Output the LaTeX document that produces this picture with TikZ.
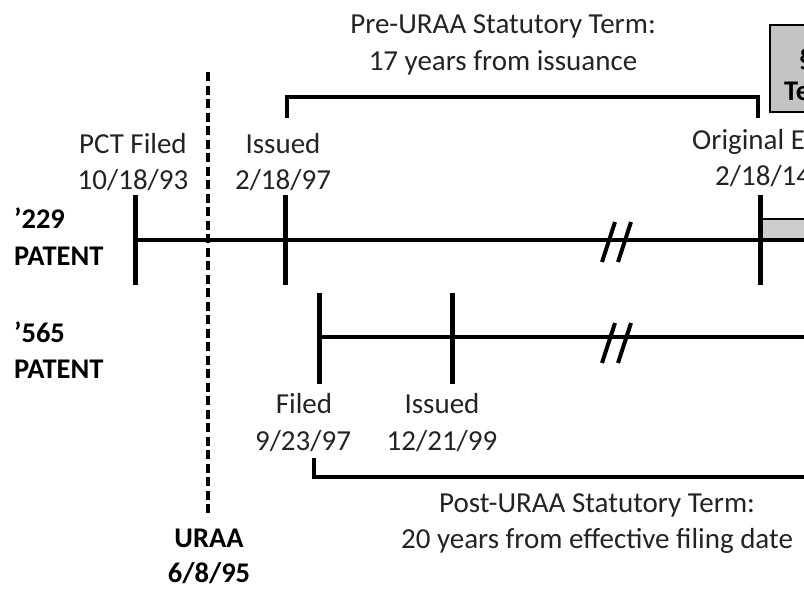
\documentclass[tikz,border=0pt]{standalone}
\usepackage{fontspec}
\setmainfont{Carlito}
\definecolor{txt}{RGB}{35,35,35}
\definecolor{boxgray}{RGB}{196,196,196}
\definecolor{bargray}{RGB}{205,205,205}
\begin{document}
\begin{tikzpicture}[x=1pt,y=-1pt,
  lbl/.style={anchor=base, inner sep=0pt, text=txt, font=\fontsize{29}{35}\selectfont},
  blbl/.style={anchor=base west, inner sep=0pt, text=black, font=\fontsize{28.5}{35}\selectfont\bfseries},
  axisline/.style={line width=4.8pt},
  tickline/.style={line width=5pt},
  bracket/.style={line width=3.5pt},
  brkmark/.style={line width=4pt},
  uraaline/.style={line width=3.2pt, dash pattern=on 9pt off 4.5pt}]
\useasboundingbox (0,0) rectangle (804,590);
\clip (0,0) rectangle (804,590);

% coordinates
\coordinate (pctT) at (135,195); \coordinate (pctB) at (135,285); \coordinate (pct) at (135,240);
\coordinate (issT) at (285,195); \coordinate (issB) at (285,285);
\coordinate (expT) at (760,195); \coordinate (expB) at (760,285); \coordinate (exp) at (760,240);
\coordinate (endA) at (830,240);
\coordinate (filT) at (319,293); \coordinate (filB) at (319,384); \coordinate (fil) at (319,337);
\coordinate (is2T) at (452,293); \coordinate (is2B) at (452,384);
\coordinate (endB) at (830,337);
\coordinate (uT) at (208,72); \coordinate (uB) at (208,513);

% URAA dashed line
\draw[uraaline] (uT) -- (uB);

% extension bar
\draw[line width=2.2pt, fill=bargray] (exp) rectangle (830,219);

% '229 timeline
\draw[axisline] (pct) -- (endA);
\draw[tickline] (pctT) -- (pctB);
\draw[tickline] (issT) -- (issB);
\draw[tickline] (expT) -- (expB);
\draw[brkmark] (602,262) -- (615,222);
\draw[brkmark] (618,262) -- (631,222);

% '565 timeline
\draw[axisline] (fil) -- (endB);
\draw[tickline] (filT) -- (filB);
\draw[tickline] (is2T) -- (is2B);
\draw[brkmark] (602,363) -- (615,323);
\draw[brkmark] (618,363) -- (631,323);

% brackets
\coordinate (preL) at (287,118); \coordinate (preR) at (758,118);
\draw[bracket] (preL) -- (287,97) -- (758,97) -- (preR);
\coordinate (postL) at (314,458);
\draw[bracket] (postL) -- (314,477) -- (830,477);

% gray box
\draw[line width=2.8pt, fill=boxgray] (770,25) rectangle (840,112);
\node[blbl] (box1) at (799,68) {§ 156};
\node[blbl] (box2) at (784,100) {Term Extension};

% labels
\node[lbl] (pre1) at (503,33) {Pre-URAA Statutory Term:};
\node[lbl] (pre2) at (503,70) {17 years from issuance};
\node[lbl] (pct1) at (133,153) {PCT Filed};
\node[lbl] (pct2) at (133,189) {10/18/93};
\node[lbl] (iss1) at (283,153) {Issued};
\node[lbl] (iss2) at (283,189) {2/18/97};
\node[lbl, anchor=base west] (exp1) at (692,149) {Original Exp.};
\node[lbl, anchor=base west] (exp2) at (715,185) {2/18/14};
\node[blbl] (p229a) at (14,228) {’229};
\node[blbl] (p229b) at (14,265) {PATENT};
\node[blbl] (p565a) at (14,342) {’565};
\node[blbl] (p565b) at (14,378) {PATENT};
\node[lbl] (fil1) at (304,413) {Filed};
\node[lbl] (fil2) at (303,450) {9/23/97};
\node[lbl] (is21) at (442,413) {Issued};
\node[lbl] (is22) at (442,450) {12/21/99};
\node[lbl] (post1) at (597,512) {Post-URAA Statutory Term:};
\node[lbl] (post2) at (597,548) {20 years from effective filing date};
\node[blbl, anchor=base] (uraa1) at (209,547) {URAA};
\node[blbl, anchor=base] (uraa2) at (209,582) {6/8/95};
\end{tikzpicture}
\end{document}
